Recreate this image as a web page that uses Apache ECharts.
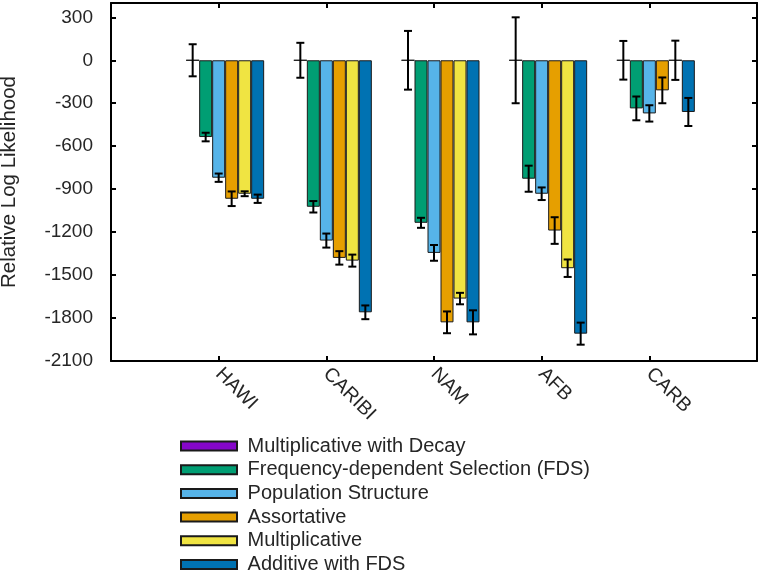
<!DOCTYPE html>
<html>
<head>
<meta charset="utf-8">
<script src="https://cdn.jsdelivr.net/npm/echarts@6/dist/echarts.min.js"></script>
<style>html,body{margin:0;padding:0;background:#fff}#c{width:762px;height:573px}</style>
</head>
<body>
<div id="c"></div>
<script>
// ---- data ----
const categories = ['HAWI', 'CARIBI', 'NAM', 'AFB', 'CARB'];
const seriesNames = ['Multiplicative with Decay', 'Frequency-dependent Selection (FDS)', 'Population Structure', 'Assortative', 'Multiplicative', 'Additive with FDS'];
const seriesColors = ['#8506c9', '#009E73', '#56B4E9', '#E69F00', '#F0E442', '#0072B2'];

const decayVals   = [0, 0, 0, 0, 0];
const decayErr    = [112, 122, 205, 300, 135];
const fdsVals     = [-536, -1023, -1135, -827, -336];
const fdsErr      = [30, 40, 35, 91, 83];
const popVals     = [-820, -1259, -1345, -932, -371];
const popErr      = [29, 49, 55, 44, 57];
const assortVals  = [-967, -1380, -1830, -1189, -210];
const assortErr   = [51, 47, 76, 93, 90];
const multVals    = [-932, -1399, -1664, -1452, 0];
const multErr     = [17, 42, 40, 61, 137];
const addFdsVals  = [-967, -1760, -1830, -1909, -361];
const addFdsErr   = [29, 48, 84, 77, 98];

const yTicks = { min: -2100, max: 400, interval: 300 };

// ---- build ----
const allVals = [decayVals, fdsVals, popVals, assortVals, multVals, addFdsVals];
const allErr = [decayErr, fdsErr, popErr, assortErr, multErr, addFdsErr];
const axisCats = [''].concat(categories, ['']);
const BAR_W = 13;
const NSLOT = 7; // one empty leading slot + six series
const FONT = 'Liberation Sans, Arial, sans-serif';
const TXT = '#262626';

const series = [];
// empty leading slot
series.push({ type: 'bar', name: '_spacer', data: [], barWidth: BAR_W, barGap: '0%', xAxisIndex: 0, yAxisIndex: 0 });
allVals.forEach((vals, s) => {
  series.push({
    type: 'bar',
    name: seriesNames[s],
    data: vals.map((v, i) => [i + 1, v]),
    barWidth: BAR_W,
    barGap: '0%',
    xAxisIndex: 0, yAxisIndex: 0,
    itemStyle: { color: seriesColors[s], borderColor: '#1a1a1a', borderWidth: 1 },
    emphasis: { disabled: true },
    animation: false
  });
});
const errData = [];
allVals.forEach((vals, s) => {
  vals.forEach((v, i) => errData.push([i + 1, v, allErr[s][i], s + 1]));
});
series.push({
  type: 'custom',
  name: '_err',
  xAxisIndex: 0, yAxisIndex: 0,
  data: errData,
  z: 10,
  animation: false,
  renderItem: function (params, api) {
    const x = api.value(0), v = api.value(1), e = api.value(2), slot = api.value(3);
    const hi = api.coord([x, v + e]);
    const lo = api.coord([x, v - e]);
    const cx = hi[0] + (slot - (NSLOT - 1) / 2) * BAR_W;
    const cap = 4;
    const st = { stroke: '#000', lineWidth: 2 };
    return {
      type: 'group',
      children: [
        { type: 'line', shape: { x1: cx, y1: hi[1], x2: cx, y2: lo[1] }, style: st },
        { type: 'line', shape: { x1: cx - cap, y1: hi[1], x2: cx + cap, y2: hi[1] }, style: st },
        { type: 'line', shape: { x1: cx - cap, y1: lo[1], x2: cx + cap, y2: lo[1] }, style: st }
      ]
    };
  }
});

const axisLineStyle = { show: true, onZero: false, lineStyle: { color: '#000', width: 2 } };
const tickStyle = { show: true, inside: true, length: 5, lineStyle: { color: '#000', width: 2 } };

const option = {
  animation: false,
  backgroundColor: '#fff',
  grid: { left: 111, right: 5, top: 3, bottom: 212, containLabel: false, outerBoundsMode: 'none' },
  legend: {
    data: seriesNames,
    orient: 'vertical',
    left: 180,
    top: 436,
    height: 170,
    padding: 0,
    itemWidth: 56,
    itemHeight: 9,
    itemGap: 3.7,
    icon: 'rect',
    formatter: function (n) { return ' ' + n; },
    textStyle: { fontFamily: FONT, fontSize: 20, color: TXT, lineHeight: 20 },
    selectedMode: false
  },
  xAxis: [
    {
      type: 'category', data: axisCats, boundaryGap: false, position: 'bottom',
      axisLine: axisLineStyle, axisTick: tickStyle,
      axisLabel: { rotate: -45, margin: 10, fontFamily: FONT, fontSize: 19.5, color: TXT, interval: 0 },
      splitLine: { show: false }
    },
    {
      type: 'category', data: axisCats, boundaryGap: false, position: 'top',
      axisLine: axisLineStyle, axisTick: tickStyle,
      axisLabel: { show: false }, splitLine: { show: false }
    }
  ],
  yAxis: [
    {
      type: 'value', min: yTicks.min, max: yTicks.max, interval: yTicks.interval, position: 'left',
      name: 'Relative Log Likelihood', nameLocation: 'middle', nameGap: 91, nameRotate: 90,
      nameTextStyle: { fontFamily: FONT, fontSize: 20.5, color: TXT },
      axisLine: axisLineStyle, axisTick: tickStyle,
      axisLabel: { margin: 18, fontFamily: FONT, fontSize: 19, color: TXT, showMaxLabel: false,
        formatter: function (v) { return String(v); } },
      splitLine: { show: false }
    },
    {
      type: 'value', min: yTicks.min, max: yTicks.max, interval: yTicks.interval, position: 'right',
      axisLine: axisLineStyle, axisTick: tickStyle,
      axisLabel: { show: false }, splitLine: { show: false }
    }
  ],
  series: series
};

const chart = echarts.init(document.getElementById('c'), null, { renderer: 'canvas' });
chart.setOption(option);
</script>
</body>
</html>
